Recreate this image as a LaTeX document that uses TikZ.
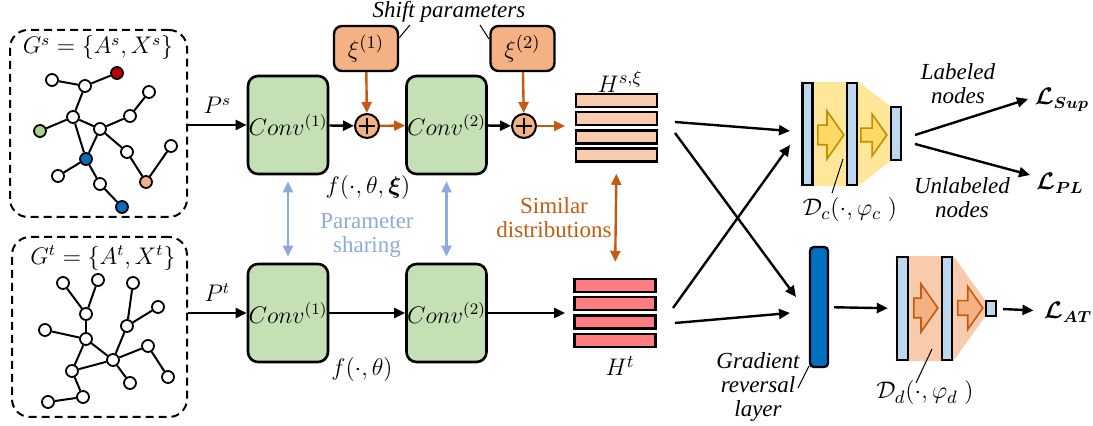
\documentclass[tikz,border=0pt,12pt]{standalone}
\usepackage{fontspec}
\setmainfont{Liberation Serif}
\usepackage{amsmath}
\usepackage{bm}
\usetikzlibrary{arrows.meta, shapes.arrows, backgrounds}

\definecolor{convgreen}{HTML}{C5E0B4}
\definecolor{peach}{HTML}{F4B183}
\definecolor{lightpeach}{HTML}{F8CBAD}
\definecolor{salmon}{HTML}{FF7C80}
\definecolor{rust}{HTML}{C55A11}
\definecolor{skyblue}{HTML}{8FAADC}
\definecolor{barblue}{HTML}{BDD7EE}
\definecolor{deepblue}{HTML}{0070C0}
\definecolor{goldfill}{HTML}{FFE699}
\definecolor{goldarrow}{HTML}{FFD966}
\definecolor{golddark}{HTML}{BF9000}
\definecolor{nodered}{HTML}{C00000}
\definecolor{nodegreen}{HTML}{A9D18E}

\begin{document}
\begin{tikzpicture}[
  x=0.5pt, y=-0.5pt,
  >={Triangle[length=5.5pt,width=5pt]},
  font=\fontsize{12}{14}\selectfont,
  gnode/.style={circle, draw, line width=0.9pt, inner sep=0pt, minimum size=6pt},
  gedge/.style={line width=1pt},
  gbox/.style={draw, dash pattern=on 4pt off 2.5pt, line width=1pt, rounded corners=9pt,
    inner sep=0pt},
  conv/.style={draw, line width=1.3pt, fill=convgreen, rounded corners=5pt,
    minimum width=40pt, minimum height=49pt, inner sep=0pt},
  xibox/.style={draw, line width=1.2pt, fill=peach, rounded corners=4pt,
    minimum width=32pt, minimum height=22.5pt, inner sep=0pt, font=\fontsize{13}{15}\selectfont},
  plusnode/.style={circle, draw, line width=1pt, fill=peach, minimum size=12pt, inner sep=0pt,
    path picture={\draw[line width=0.8pt]
      ([xshift=-4pt]path picture bounding box.center) -- ([xshift=4pt]path picture bounding box.center)
      ([yshift=-4pt]path picture bounding box.center) -- ([yshift=4pt]path picture bounding box.center);}},
  hbar/.style={draw, line width=1.2pt, minimum width=40.5pt, minimum height=6.5pt, inner sep=0pt},
  layerbar/.style={draw, line width=1.2pt, fill=barblue, minimum width=5pt, inner sep=0pt},
  barrow/.style={single arrow, draw, line width=0.8pt, inner xsep=0pt, single arrow tip angle=110,
    anchor=tail},
  lbl/.style={font=\fontsize{11.5}{12}\selectfont\itshape, align=center},
  txt/.style={font=\fontsize{11.5}{12}\selectfont, align=center},
  mlbl/.style={font=\fontsize{13}{15}\selectfont},
  link/.style={->, line width=1.2pt},
  leader/.style={line width=0.5pt},
  ]
  \useasboundingbox (0,0) rectangle (1093,426);

  % Source graph
  \node[gbox, minimum width=88.5pt, minimum height=93.5pt] (gs) at (98.5,123.5) {};
  \node (gstitle) at (98,48) {$G^s=\{A^s,X^s\}$};
  \foreach \n/\x/\y/\c in {s1/52/80/white, s2/85/86/white, s3/117/73/nodered, s4/73/117/white,
      s5/40/131/nodegreen, s6/100/129/white, s7/130/116/white, s8/149/92/white,
      s9/86/159/deepblue, s10/127/152/white, s11/146/182/peach, s12/171/146/white,
      s13/58/176/white, s14/100/184/white, s15/122/207/deepblue} {
    \node[gnode, fill=\c] (\n) at (\x,\y) {};
  }
  \foreach \a/\b in {s1/s2, s2/s3, s2/s4, s4/s5, s4/s6, s6/s7, s7/s8, s4/s9, s6/s9,
      s6/s10, s10/s11, s11/s12, s9/s13, s9/s14, s14/s15} {
    \draw[gedge] (\a) -- (\b);
  }

  % Target graph
  \node[gbox, minimum width=87.5pt, minimum height=90pt] (gt) at (99.5,327) {};
  \node (gttitle) at (103,258) {$G^t=\{A^t,X^t\}$};
  \foreach \n/\x/\y in {t1/63/283, t2/98/280, t3/86/314, t4/45/330, t5/86/339, t6/133/283,
      t7/158/307, t8/127/326, t9/113/360, t10/148/346, t11/168/377, t12/130/383,
      t13/72/371, t14/83/397, t15/48/402} {
    \node[gnode, fill=white] (\n) at (\x,\y) {};
  }
  \foreach \a/\b in {t1/t3, t2/t3, t3/t5, t4/t5, t5/t13, t5/t9, t6/t8, t7/t8, t8/t9,
      t9/t10, t10/t11, t9/t12, t9/t13, t13/t14, t14/t15} {
    \draw[gedge] (\a) -- (\b);
  }

  % Encoders
  \node[conv] (c1s) at (288,125) {$Conv^{(1)}$};
  \node[conv] (c2s) at (446.5,125) {$Conv^{(2)}$};
  \node[conv] (c1t) at (288,313) {$Conv^{(1)}$};
  \node[conv] (c2t) at (446.5,313) {$Conv^{(2)}$};

  \draw[link] (gs.east |- c1s.west) -- (c1s.west) node[midway, above=1pt] {$P^s$};
  \draw[link] (gt.east |- c1t.west) -- (c1t.west) node[midway, above=1pt] {$P^t$};

  % Shift parameters
  \node[xibox] (xi1) at (366,48.5) {$\xi^{(1)}$};
  \node[xibox] (xi2) at (522.5,48.5) {$\xi^{(2)}$};
  \node[plusnode] (p1) at (367,126) {};
  \node[plusnode] (p2) at (524,126) {};
  \coordinate (hsin) at (565,126);
  \coordinate (htin) at (565,313);
  \node[lbl] (shiftlbl) at (449,12) {Shift parameters};
  \draw[leader] (410,25) -- (399,38);
  \draw[leader] (480,25) -- (489,39);

  \draw[link] (c1s) -- (p1);
  \draw[link, rust] (p1) -- (c2s);
  \draw[link] (c2s) -- (p2);
  \draw[link, rust] (p2) -- (hsin);
  \draw[link, rust] (xi1) -- (p1);
  \draw[link, rust] (xi2) -- (p2);
  \draw[link] (c1t) -- (c2t);
  \draw[link] (c2t) -- (htin);

  \node[mlbl] (fs) at (368,188) {$f(\cdot,\theta,\bm{\xi})$};
  \node[mlbl] (ft) at (362,370) {$f(\cdot,\theta)$};

  % Parameter sharing
  \draw[<->, line width=1.2pt, skyblue, shorten <=3pt, shorten >=3pt] (c1s) -- (c1t);
  \draw[<->, line width=1.2pt, skyblue, shorten <=3pt, shorten >=3pt] (c2s) -- (c2t);
  \node[txt, skyblue] (sharelbl) at (367,235) {Parameter\\sharing};

  % Node embeddings
  \foreach \i in {1,...,4} {
    \node[hbar, fill=lightpeach] (hs\i) at (616.5, {100.5+18.2*(\i-1)}) {};
    \node[hbar, fill=salmon] (ht\i) at (615, {285.5+18.3*(\i-1)}) {};
  }
  \node[mlbl] (hslbl) at (620,82) {$H^{s,\xi}$};
  \node[mlbl] (htlbl) at (620,366) {$H^t$};
  \draw[<->, line width=1.2pt, rust, shorten <=5.5pt, shorten >=8pt] (hs4.south) -- (ht1.north);
  \node[txt, rust] (simlbl) at (554,218) {Similar\\distributions};

  % Classifier
  \node[layerbar, minimum height=51pt] (dc1) at (807.5,134) {};
  \node[layerbar, minimum height=51pt] (dc2) at (852,134) {};
  \node[layerbar, minimum height=26.5pt] (dc3) at (896,133.5) {};
  \begin{scope}[on background layer]
    \fill[goldfill] (dc1.north east) rectangle (dc2.south west);
    \fill[goldfill] (dc2.north east) -- (dc3.north west) -- (dc3.south west) -- (dc2.south east) -- cycle;
  \end{scope}
  \node[barrow, fill=goldarrow, draw=golddark, inner ysep=4.5pt, minimum width=21pt,
    minimum height=13pt] (dca1) at (817,135) {};
  \node[barrow, fill=goldarrow, draw=golddark, inner ysep=3pt, minimum width=14pt,
    minimum height=13pt] (dca2) at (860,135) {};
  \node[mlbl] (dclbl) at (850,210) {$\mathcal{D}_c(\cdot,\varphi_c\;)$};
  \draw[leader] (832,193) -- (843,159);

  % Gradient reversal layer and discriminator
  \node[draw, line width=1.2pt, fill=deepblue, rounded corners=2pt, minimum width=9pt,
    minimum height=60pt, inner sep=0pt] (grl) at (819,307) {};
  \node[lbl] (grllbl) at (758,387) {Gradient\\reversal\\layer};
  \draw[leader] (798,388) -- (809,366);

  \node[layerbar, minimum width=5.5pt, minimum height=51.5pt] (dd1) at (902.5,308.5) {};
  \node[layerbar, minimum height=51.5pt] (dd2) at (947,308.5) {};
  \node[layerbar, minimum height=7.5pt] (dd3) at (991,308.5) {};
  \begin{scope}[on background layer]
    \fill[lightpeach] (dd1.north east) rectangle (dd2.south west);
    \fill[lightpeach] (dd2.north east) -- (dd3.north west) -- (dd3.south west) -- (dd2.south east) -- cycle;
  \end{scope}
  \node[barrow, fill=peach, draw=rust, inner ysep=4.5pt, minimum width=19pt,
    minimum height=12pt] (dda1) at (913,308) {};
  \node[barrow, fill=peach, draw=rust, inner ysep=3.25pt, minimum width=13.5pt,
    minimum height=12.5pt] (dda2) at (957,308) {};
  \node[mlbl] (ddlbl) at (925,393) {$\mathcal{D}_d(\cdot,\varphi_d\;)$};
  \draw[leader] (916,383) -- (932,349);

  % Crossing connections
  \coordinate (hsa) at (675,122);
  \coordinate (hsb) at (675,133);
  \coordinate (hta) at (673,308);
  \coordinate (htb) at (675,323);
  \coordinate (dcin1) at (790,131);
  \coordinate (dcin2) at (790,145);
  \coordinate (grlin1) at (796,297);
  \coordinate (grlin2) at (790,313);
  \draw[link] (hsa) -- (dcin1);
  \draw[link] (hsb) -- (grlin1);
  \draw[link] (hta) -- (dcin2);
  \draw[link] (htb) -- (grlin2);
  \draw[link, shorten <=2.5pt, shorten >=4pt] (grl) -- (dd1);

  % Losses
  \node (lsup) at (1062,100) {$\bm{\mathcal{L}}_{\bm{Sup}}$};
  \node (lpl) at (1060,183) {$\bm{\mathcal{L}}_{\bm{PL}}$};
  \node (lat) at (1068,312) {$\bm{\mathcal{L}}_{\bm{AT}}$};
  \coordinate (dcout1) at (915,135);
  \coordinate (dcout2) at (915,144);
  \draw[link] (dcout1) -- (1028,99);
  \draw[link] (dcout2) -- (1030,175);
  \draw[link, shorten <=3pt, shorten >=1pt] (dd3) -- (lat);
  \node[lbl] (lablbl) at (958,84) {Labeled\\nodes};
  \node[lbl] (unlbl) at (962,198) {Unlabeled\\nodes};
\end{tikzpicture}
\end{document}
